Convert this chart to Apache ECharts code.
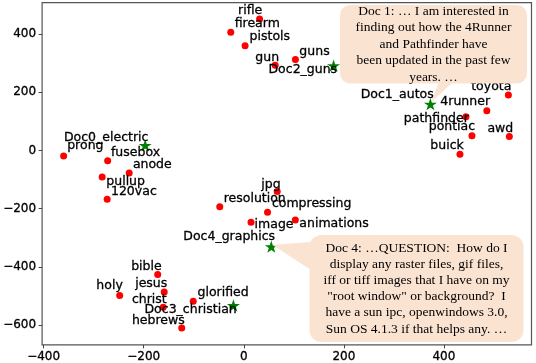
<!DOCTYPE html>
<html>
<head>
<meta charset="utf-8">
<script src="https://cdn.jsdelivr.net/npm/echarts@6/dist/echarts.min.js"></script>
<style>
html,body{margin:0;padding:0;background:#fff;}
#chart{width:536px;height:363px;}
</style>
</head>
<body>
<div id="chart"></div>
<script>
// ---------- data ----------
var words = ['rifle','firearm','pistols','gun','guns','toyota','4runner','pathfinder','pontiac','awd','buick',
  'prong','fusebox','anode','pullup','120vac','jpg','resolution','compressing','image','animations',
  'bible','jesus','holy','christ','glorified','hebrews'];
var wordX = [31.6,-26,2.6,62.8,103.2,528.8,485.7,444,456,530.7,432,
  -360,-272,-229,-283,-273,66.8,-48,47.5,14.5,103,
  -172,-159,-248,-161,-101,-124];
var wordY = [451,405.5,359.6,292.6,311.7,190,136,115.7,50.6,48.3,-13,
  -19,-35,-77,-91,-167,-141,-193,-212,-246,-239,
  -426,-485.6,-498,-538,-517,-609];
// text anchor (left, middle) of each word label, in data units
var wordLabelX = [-11.3,-18.1,11.7,23.1,111.2,454.6,392.9,320,369.7,487,373,
  -352.8,-265.3,-221.5,-274.6,-265.3,35,-40,56.3,21.7,111.2,
  -224.9,-216.9,-294.5,-223.5,-92.3,-223.5];
var wordLabelY = [480.1,434.6,388.7,316.9,339.8,220,166.3,109.5,80.8,75.3,16.4,
  14.7,-7.5,-49.3,-106.8,-141,-116.3,-164.3,-182,-255.6,-252.2,
  -397.6,-457.5,-466.1,-512.3,-490,-585.8];

var docs = ['Doc0_electric','Doc1_autos','Doc2_guns','Doc3_christian','Doc4_graphics'];
var docX = [-197,373,179.5,-20.7,55];
var docY = [17.5,159,291,-532,-330];
var docLabelX = [-359.3,233.8,49.5,-198.3,-120.7];
var docLabelY = [44.5,189.9,278.2,-547.5,-297.7];

var xTicks = [-400,-200,0,200,400];
var yTicks = [-600,-400,-200,0,200,400];

var annoDoc = [1, 4]; // indices into docs
var annoText = [
  'Doc 1: \u2026 I am interested in\nfinding out how the 4Runner\nand Pathfinder have\nbeen updated in the past few\nyears. \u2026',
  'Doc 4: \u2026QUESTION:  How do I\ndisplay any raster files, gif files,\niff or tiff images that I have on my\n"root window" or background?  I\nhave a sun ipc, openwindows 3.0,\nSun OS 4.1.3 if that helps any. \u2026'
];

// ---------- layout (pixels) ----------
var annoBox = [
  {x:340, y:5, w:187, h:78.5, r:10, lh:16.5, base:[[439,82],[453,82]]},
  {x:309.5, y:235, w:214, h:107, r:12, lh:16.2, base:[[311,242],[311,270]]}
];

var STAR = 'path://M50 0 L61.2 34.5 L97.6 34.5 L68.2 55.9 L79.4 90.5 L50 69.1 L20.6 90.5 L31.8 55.9 L2.4 34.5 L38.8 34.5 Z';

function zip(a,b){ return a.map(function(v,i){ return [v,b[i]]; }); }

var chart = echarts.init(document.getElementById('chart'), null, {renderer:'canvas'});
var fmt = function(v){ return String(v).replace('-', '\u2212'); };
function axis(min, max, ticks, margin){
  return {
    type:'value', min:min, max:max,
    splitLine:{show:false},
    axisLine:{show:false, onZero:false},
    axisTick:{show:true, length:3.5, customValues:ticks, lineStyle:{color:'#444', width:1}},
    axisLabel:{customValues:ticks, margin:margin, color:'#000', fontFamily:'DejaVu Sans', fontSize:12,
      formatter:fmt, textBorderColor:'#000', textBorderWidth:0.3}
  };
}

var option = {
  animation:false,
  backgroundColor:'#fff',
  grid:{left:39.5, right:4.5, top:2.7, bottom:17.3, show:true, borderColor:'#555', borderWidth:1.2, backgroundColor:'transparent'},
  xAxis: axis(-403, 575, xTicks, 6),
  yAxis: axis(-667, 507, yTicks, 6),
  series:[
    {
      type:'scatter', z:3,
      data: zip(wordX, wordY),
      symbol:'circle', symbolSize:7,
      itemStyle:{color:'#ff0000', opacity:1}
    },
    {
      type:'scatter', z:3,
      data: zip(docX, docY),
      symbol:STAR, symbolSize:13, symbolKeepAspect:true,
      itemStyle:{color:'#008000', opacity:1}
    },
    {
      type:'scatter', z:5, silent:true,
      data: words.map(function(w,i){ return {name:w, value:[wordLabelX[i], wordLabelY[i]]}; })
        .concat(docs.map(function(d,i){ return {name:d, value:[docLabelX[i], docLabelY[i]]}; })),
      symbolSize:0.1,
      itemStyle:{color:'transparent'},
      label:{show:true, position:[0,0], align:'left', verticalAlign:'middle',
        formatter:'{b}', color:'#000', opacity:1, fontFamily:'DejaVu Sans', fontSize:12.5,
        textBorderColor:'#000', textBorderWidth:0.3}
    },
    {
      type:'custom', z:6, silent:true,
      coordinateSystem:'cartesian2d',
      data: annoDoc.map(function(di,k){ return [docX[di], docY[di], k]; }),
      renderItem:function(params, api){
        var k = api.value(2);
        var tip = api.coord([api.value(0), api.value(1)]);
        var b = annoBox[k];
        return {
          type:'group',
          children:[
            {type:'polygon', shape:{points:[b.base[0], b.base[1], [tip[0]+1, tip[1]-2]]},
              style:{fill:'#fbe3d2'}},
            {type:'rect', shape:{x:b.x, y:b.y, width:b.w, height:b.h, r:b.r},
              style:{fill:'#fbe3d2'}},
            {type:'text', x:b.x+b.w/2, y:b.y+b.h/2,
              style:{text:annoText[k], align:'center', verticalAlign:'middle',
                font:'13.5px "Liberation Serif"', lineHeight:b.lh, fill:'#000'}}
          ]
        };
      }
    }
  ]
};
chart.setOption(option);
</script>
</body>
</html>
